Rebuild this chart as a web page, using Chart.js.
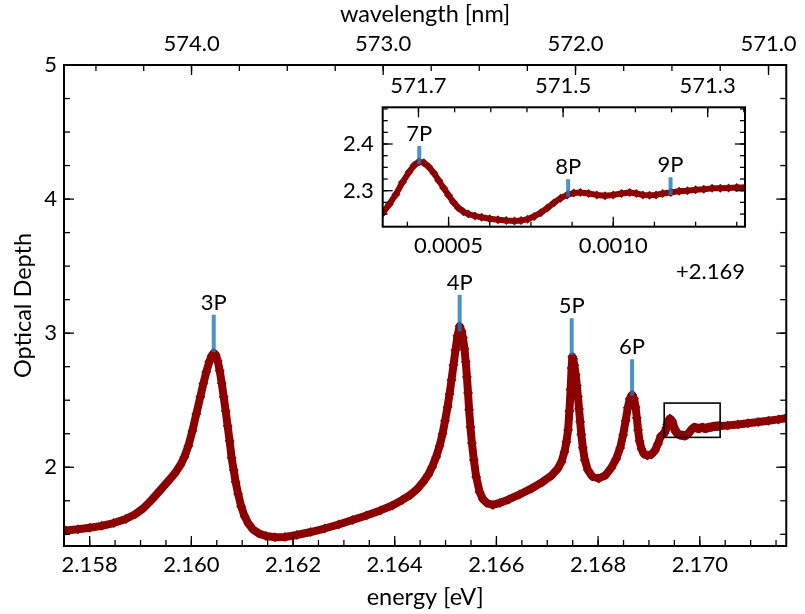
<!DOCTYPE html>
<html>
<head>
<meta charset="utf-8">
<script src="https://cdn.jsdelivr.net/npm/chart.js@4/dist/chart.umd.min.js"></script>
<style>
  html, body { margin: 0; padding: 0; background: #fff; }
  #wrap { position: relative; width: 805px; height: 614px; }
  #wrap canvas { position: absolute; left: 0; top: 0; }
</style>
</head>
<body>
<div id="wrap">
  <canvas id="mainChart" width="805" height="614"></canvas>
  <canvas id="insetChart" width="805" height="614"></canvas>
</div>
<script>
// Photon energy (eV) and measured optical depth of the absorption spectrum
const energy = [
  2.157535, 2.157769, 2.158004, 2.158239, 2.158474, 2.158709, 2.158904, 2.159061, 2.159217, 2.159374,
  2.159530, 2.159667, 2.159785, 2.159863, 2.159941, 2.160020, 2.160098, 2.160176, 2.160235, 2.160294,
  2.160352, 2.160401, 2.160440, 2.160479, 2.160519, 2.160558, 2.160597, 2.160636, 2.160675, 2.160714,
  2.160753, 2.160792, 2.160832, 2.160871, 2.160920, 2.160978, 2.161047, 2.161125, 2.161213, 2.161331,
  2.161468, 2.161644, 2.161839,
  2.162074, 2.162348, 2.162622, 2.162896, 2.163170, 2.163444, 2.163718, 2.163953, 2.164148, 2.164305,
  2.164442, 2.164559, 2.164657, 2.164735, 2.164814, 2.164882, 2.164941, 2.164990, 2.165039, 2.165078,
  2.165117, 2.165156, 2.165195, 2.165234, 2.165277, 2.165313, 2.165342, 2.165371, 2.165397, 2.165420,
  2.165442, 2.165463, 2.165489, 2.165518, 2.165557, 2.165602, 2.165669, 2.165733, 2.165811, 2.165929,
  2.166066, 2.166242, 2.166457, 2.166692, 2.166907, 2.167083, 2.167201, 2.167279, 2.167338, 2.167377,
  2.167410, 2.167436, 2.167459, 2.167479, 2.167494, 2.167510, 2.167533, 2.167559, 2.167582, 2.167604,
  2.167625, 2.167647, 2.167670, 2.167700, 2.167739, 2.167798, 2.167886, 2.168013, 2.168140, 2.168257,
  2.168355, 2.168434, 2.168492, 2.168541, 2.168584, 2.168623, 2.168668, 2.168707, 2.168737, 2.168762,
  2.168786, 2.168815, 2.168854, 2.168903, 2.168972, 2.169050, 2.169118, 2.169177, 2.169236,
  2.169300, 2.169320, 2.169340, 2.169360, 2.169380, 2.169395, 2.169410, 2.169425, 2.169440, 2.169455,
  2.169470, 2.169485, 2.169500, 2.169515, 2.169530, 2.169545, 2.169560, 2.169580, 2.169600, 2.169625,
  2.169650, 2.169675, 2.169700, 2.169720, 2.169740, 2.169760, 2.169780, 2.169800, 2.169820, 2.169840,
  2.169860, 2.169880, 2.169900, 2.169925, 2.169950, 2.169975, 2.170000, 2.170025, 2.170050, 2.170070,
  2.170090, 2.170110, 2.170130, 2.170150, 2.170175, 2.170200, 2.170225, 2.170250, 2.170275, 2.170300,
  2.170325, 2.170350, 2.170375, 2.170400,
  2.170550, 2.170750, 2.170950, 2.171150, 2.171350, 2.171550, 2.171690
];
const opticalDepth = [
  1.528, 1.537, 1.549, 1.563, 1.584, 1.614, 1.651, 1.696, 1.756, 1.823,
  1.890, 1.950, 2.017, 2.077, 2.159, 2.271, 2.398, 2.525, 2.622, 2.711,
  2.786, 2.831, 2.853, 2.838, 2.793, 2.719, 2.629, 2.525, 2.420, 2.308,
  2.196, 2.070, 1.980, 1.890, 1.800, 1.710, 1.635, 1.578, 1.536, 1.505,
  1.487, 1.478, 1.480,
  1.495, 1.517, 1.543, 1.573, 1.607, 1.640, 1.678, 1.715, 1.756, 1.793,
  1.838, 1.890, 1.943, 2.002, 2.077, 2.159, 2.249, 2.346, 2.450, 2.547,
  2.651, 2.763, 2.875, 2.980, 3.051, 3.017, 2.965, 2.883, 2.786, 2.674,
  2.554, 2.428, 2.301, 2.181, 2.054, 1.928, 1.816, 1.763, 1.734, 1.719,
  1.734, 1.760, 1.797, 1.842, 1.890, 1.939, 1.987, 2.040, 2.114, 2.189,
  2.278, 2.420, 2.580, 2.740, 2.825, 2.810, 2.760, 2.690, 2.610, 2.525,
  2.435, 2.340, 2.245, 2.145, 2.054, 1.980, 1.931, 1.916, 1.939, 1.995,
  2.062, 2.144, 2.241, 2.346, 2.443, 2.510, 2.540, 2.510, 2.450, 2.368,
  2.278, 2.196, 2.137, 2.099, 2.088, 2.096, 2.125, 2.174, 2.234,
  2.252, 2.271, 2.292, 2.318, 2.340, 2.354, 2.362, 2.360, 2.351, 2.338,
  2.322, 2.306, 2.290, 2.275, 2.263, 2.255, 2.250, 2.246, 2.243, 2.240,
  2.238, 2.236, 2.235, 2.236, 2.239, 2.245, 2.253, 2.263, 2.274, 2.284,
  2.291, 2.295, 2.296, 2.294, 2.291, 2.289, 2.291, 2.294, 2.296, 2.294,
  2.291, 2.290, 2.291, 2.294, 2.296, 2.299, 2.300, 2.302, 2.303, 2.305,
  2.305, 2.306, 2.307, 2.307,
  2.311, 2.319, 2.328, 2.337, 2.347, 2.357, 2.365
];

// Exciton P-line assignments shown in the main panel
const peakNames  = ['3P', '4P', '5P', '6P'];
const peakEnergy = [2.160440, 2.165277, 2.167481, 2.168668];
const peakLow    = [2.860, 3.012, 2.838, 2.534];
const peakHigh   = [3.137, 3.286, 3.112, 2.806];

// Higher P-lines shown in the zoomed panel
const insetPeakNames  = ['7P', '8P', '9P'];
const insetPeakEnergy = [2.169411, 2.169863, 2.170174];
const insetPeakLow    = [2.3565, 2.2872, 2.2908];
const insetPeakHigh   = [2.3957, 2.3244, 2.3287];

// Axis ranges and tick labels
const energyRange = [2.157495, 2.171701];
const odRange = [1.4127, 5.0];
const energyTicks = [2.158, 2.160, 2.162, 2.164, 2.166, 2.168, 2.170];
const odTicks = [2, 3, 4, 5];
const wavelengthTicks = [574.0, 573.0, 572.0, 571.0];

const insetEnergyRange = [2.1693, 2.1704];
const insetOdRange = [2.2229, 2.4786];
const insetEnergyOffset = 2.169;
const insetEnergyTicks = [2.1695, 2.1700];
const insetOdTicks = [2.3, 2.4];
const insetWavelengthRange = [571.2484, 571.7495];
const insetWavelengthTicks = [571.7, 571.5, 571.3];

const HC = 1239.84193; // eV nm
const FONT = 'Lato';
const FS = 22;
const TITLE_FS = 23.5;
const CURVE = '#8b0000';
const MARK = 'rgba(31,119,180,0.8)';

function steps(lo, hi, step) {
  const out = [];
  for (let k = Math.ceil(lo / step - 1e-9); k * step <= hi + 1e-12; k++) out.push(+(k * step).toFixed(9));
  return out;
}

// Inward tick marks on all four sides plus the axes frame
const frameTicks = {
  id: 'frameTicks',
  afterDatasetsDraw(chart, args, o) {
    const { ctx, chartArea: a } = chart;
    ctx.save();
    ctx.strokeStyle = '#000';
    ctx.lineWidth = 1.3;
    const tick = (side, p, len) => {
      ctx.beginPath();
      if (side === 'bottom') { ctx.moveTo(p, a.bottom); ctx.lineTo(p, a.bottom - len); }
      if (side === 'top')    { ctx.moveTo(p, a.top);    ctx.lineTo(p, a.top + len); }
      if (side === 'left')   { ctx.moveTo(a.left, p);   ctx.lineTo(a.left + len, p); }
      if (side === 'right')  { ctx.moveTo(a.right, p);  ctx.lineTo(a.right - len, p); }
      ctx.stroke();
    };
    o.sets.forEach(s => {
      const sc = chart.scales[s.scale];
      const horiz = s.sides[0] === 'top' || s.sides[0] === 'bottom';
      s.values.forEach(v => {
        const p = sc.getPixelForValue(v);
        if (horiz && (p < a.left + 1 || p > a.right - 1)) return;
        if (!horiz && (p < a.top + 1 || p > a.bottom - 1)) return;
        s.sides.forEach(side => tick(side, p, s.len));
      });
    });
    ctx.lineWidth = 2;
    ctx.strokeRect(a.left, a.top, a.right - a.left, a.bottom - a.top);
    ctx.restore();
  }
};

// Peak names written above their markers
const peakLabels = {
  id: 'peakLabels',
  afterDatasetsDraw(chart, args, o) {
    const { ctx } = chart;
    const xs = chart.scales.x, ys = chart.scales.y;
    ctx.save();
    ctx.fillStyle = '#000';
    ctx.font = FS + 'px ' + FONT;
    ctx.textAlign = 'center';
    ctx.textBaseline = 'alphabetic';
    o.names.forEach((n, i) => {
      ctx.fillText(n, xs.getPixelForValue(o.energy[i]), ys.getPixelForValue(o.high[i]) - 5);
    });
    if (o.offsetText) {
      ctx.textAlign = 'right';
      ctx.textBaseline = 'middle';
      ctx.fillText(o.offsetText, chart.chartArea.right, chart.chartArea.bottom + 45);
    }
    ctx.restore();
  }
};

// Outline of the zoomed region inside the main panel
const zoomBox = {
  id: 'zoomBox',
  afterDatasetsDraw(chart) {
    const { ctx } = chart;
    const xs = chart.scales.x, ys = chart.scales.y;
    const x0 = xs.getPixelForValue(insetEnergyRange[0]), x1 = xs.getPixelForValue(insetEnergyRange[1]);
    const y0 = ys.getPixelForValue(insetOdRange[1]), y1 = ys.getPixelForValue(insetOdRange[0]);
    ctx.save();
    ctx.strokeStyle = '#000';
    ctx.lineWidth = 1.6;
    ctx.strokeRect(x0, y0, x1 - x0, y1 - y0);
    ctx.restore();
  }
};

// White face for the zoomed panel
const whiteFace = {
  id: 'whiteFace',
  beforeDatasetsDraw(chart) {
    const { ctx, chartArea: a } = chart;
    ctx.save();
    ctx.fillStyle = '#fff';
    ctx.fillRect(a.left, a.top, a.right - a.left, a.bottom - a.top);
    ctx.restore();
  }
};

const points = energy.map((e, i) => ({ x: e, y: opticalDepth[i] }));

function curveSet(width, radius) {
  return {
    type: 'line', data: points, order: 1, clip: 0,
    borderColor: CURVE, backgroundColor: CURVE, borderWidth: width,
    borderJoinStyle: 'round', borderCapStyle: 'round', tension: 0,
    pointStyle: 'rectRot', pointRadius: radius, pointBorderWidth: 0,
    pointBackgroundColor: CURVE, pointHoverRadius: radius
  };
}
function markerSets(E, lo, hi) {
  return E.map((e, i) => ({
    type: 'line', order: 0, data: [{ x: e, y: lo[i] }, { x: e, y: hi[i] }],
    borderColor: MARK, borderWidth: 4, borderCapStyle: 'butt', pointRadius: 0
  }));
}

const tickFont = { family: FONT, size: FS };
const titleFont = { family: FONT, size: TITLE_FS };
const noGrid = { display: false, drawTicks: false };
const noBorder = { display: false };

function build() {
  Chart.defaults.font.family = FONT;
  Chart.defaults.color = '#000';

  // ---- main panel ----
  const mainTopMinor = steps(HC / energyRange[1], HC / energyRange[0], 0.25).map(l => HC / l);
  new Chart(document.getElementById('mainChart'), {
    type: 'line',
    data: { datasets: [curveSet(8, 5), ...markerSets(peakEnergy, peakLow, peakHigh)] },
    options: {
      responsive: false, animation: false, events: [],
      layout: { padding: { left: 0, right: 15, top: 0, bottom: 0 } },
      plugins: {
        legend: { display: false }, tooltip: { enabled: false },
        frameTicks: { sets: [
          { scale: 'x', values: steps(energyRange[0], energyRange[1], 0.0005), len: 6, sides: ['bottom'] },
          { scale: 'x', values: energyTicks, len: 10, sides: ['bottom'] },
          { scale: 'x', values: mainTopMinor, len: 6, sides: ['top'] },
          { scale: 'x', values: wavelengthTicks.map(l => HC / l), len: 10, sides: ['top'] },
          { scale: 'y', values: steps(odRange[0], odRange[1], 0.25), len: 6, sides: ['left', 'right'] },
          { scale: 'y', values: odTicks, len: 10, sides: ['left', 'right'] }
        ] },
        peakLabels: { names: peakNames, energy: peakEnergy, high: peakHigh }
      },
      scales: {
        x: {
          type: 'linear', position: 'bottom', min: energyRange[0], max: energyRange[1], offset: false,
          grid: noGrid, border: noBorder,
          afterBuildTicks: s => { s.ticks = energyTicks.map(v => ({ value: v })); },
          afterFit: s => { s.height = 68; },
          ticks: { font: tickFont, padding: 6, autoSkip: false, maxRotation: 0, minRotation: 0,
                   callback: v => Number(v).toFixed(3) },
          title: { display: true, text: 'energy [eV]', font: titleFont, padding: { top: 2, bottom: 2 } }
        },
        xTop: {
          type: 'linear', axis: 'x', position: 'top', min: energyRange[0], max: energyRange[1], offset: false,
          grid: noGrid, border: noBorder,
          afterBuildTicks: s => { s.ticks = wavelengthTicks.map(l => ({ value: HC / l })); },
          afterFit: s => { s.height = 65; },
          ticks: { font: tickFont, padding: 8, autoSkip: false, maxRotation: 0, minRotation: 0,
                   callback: (v, i) => wavelengthTicks[i].toFixed(1) },
          title: { display: true, text: 'wavelength [nm]', font: titleFont, padding: { top: 0, bottom: 0 } }
        },
        y: {
          type: 'linear', position: 'left', min: odRange[0], max: odRange[1],
          grid: noGrid, border: noBorder,
          afterBuildTicks: s => { s.ticks = odTicks.map(v => ({ value: v })); },
          afterFit: s => { s.width = 64; },
          ticks: { font: tickFont, padding: 7, callback: v => String(v) },
          title: { display: true, text: 'Optical Depth', font: titleFont, padding: { top: 9, bottom: 9 } }
        }
      }
    },
    plugins: [frameTicks, peakLabels, zoomBox]
  });

  // ---- zoomed panel ----
  new Chart(document.getElementById('insetChart'), {
    type: 'line',
    data: { datasets: [curveSet(6, 4.5), ...markerSets(insetPeakEnergy, insetPeakLow, insetPeakHigh)] },
    options: {
      responsive: false, animation: false, events: [],
      layout: { padding: { left: 0, right: 60, top: 0, bottom: 0 } },
      plugins: {
        legend: { display: false }, tooltip: { enabled: false },
        frameTicks: { sets: [
          { scale: 'x', values: steps(insetEnergyRange[0], insetEnergyRange[1], 0.000125), len: 5, sides: ['bottom'] },
          { scale: 'x', values: insetEnergyTicks, len: 10, sides: ['bottom'] },
          { scale: 'xTop', values: steps(insetWavelengthRange[0], insetWavelengthRange[1], 0.05), len: 5, sides: ['top'] },
          { scale: 'xTop', values: insetWavelengthTicks, len: 10, sides: ['top'] },
          { scale: 'y', values: steps(insetOdRange[0], insetOdRange[1], 0.025), len: 5, sides: ['left', 'right'] },
          { scale: 'y', values: insetOdTicks, len: 10, sides: ['left', 'right'] }
        ] },
        peakLabels: { names: insetPeakNames, energy: insetPeakEnergy, high: insetPeakHigh,
                      offsetText: '+' + insetEnergyOffset.toFixed(3) }
      },
      scales: {
        x: {
          type: 'linear', position: 'bottom', min: insetEnergyRange[0], max: insetEnergyRange[1], offset: false,
          grid: noGrid, border: noBorder,
          afterBuildTicks: s => { s.ticks = insetEnergyTicks.map(v => ({ value: v })); },
          afterFit: s => { s.height = 614 - 226.7; },
          ticks: { font: tickFont, padding: 6, autoSkip: false, maxRotation: 0, minRotation: 0,
                   callback: v => (Number(v) - insetEnergyOffset).toFixed(4) }
        },
        xTop: {
          type: 'linear', axis: 'x', position: 'top', reverse: true,
          min: insetWavelengthRange[0], max: insetWavelengthRange[1], offset: false,
          grid: noGrid, border: noBorder,
          afterBuildTicks: s => { s.ticks = insetWavelengthTicks.map(v => ({ value: v })); },
          afterFit: s => { s.height = 107.3; },
          ticks: { font: tickFont, padding: 8, autoSkip: false, maxRotation: 0, minRotation: 0,
                   callback: (v, i) => insetWavelengthTicks[i].toFixed(1) }
        },
        y: {
          type: 'linear', position: 'left', min: insetOdRange[0], max: insetOdRange[1],
          grid: noGrid, border: noBorder,
          afterBuildTicks: s => { s.ticks = insetOdTicks.map(v => ({ value: v })); },
          afterFit: s => { s.width = 382.7; },
          ticks: { font: tickFont, padding: 9, callback: v => Number(v).toFixed(1) }
        }
      }
    },
    plugins: [whiteFace, frameTicks, peakLabels]
  });
}

if (document.fonts && document.fonts.load) {
  document.fonts.load(FS + 'px ' + FONT).then(build, build);
} else {
  build();
}
</script>
</body>
</html>
